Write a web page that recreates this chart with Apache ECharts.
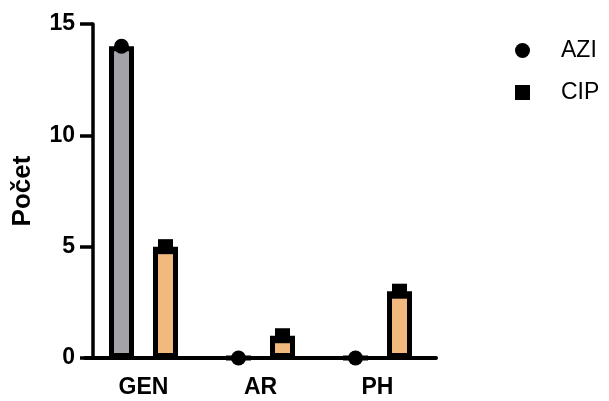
<!DOCTYPE html>
<html>
<head>
<meta charset="utf-8">
<script src="https://cdn.jsdelivr.net/npm/echarts@6/dist/echarts.min.js"></script>
<style>html,body{margin:0;padding:0;background:#fff}#c{width:609px;height:401px}</style>
</head>
<body>
<div id="c"></div>
<script>
const categories = ['GEN', 'AR', 'PH'];
const aziValues = [14, 0, 0];
const cipValues = [5, 1, 3];
const seriesNames = ['AZI', 'CIP'];
const yMin = 0, yMax = 15, yStep = 5;

const FONT = '"Liberation Sans", Arial, sans-serif';
const chart = echarts.init(document.getElementById('c'), null, {renderer: 'canvas'});
const BW = 25, GAP = '76%';
chart.setOption({
  animation: false,
  backgroundColor: '#fff',
  grid: {left: 85, top: 24, width: 351, bottom: 43, containLabel: false},
  legend: {
    orient: 'vertical', left: 510, top: 34, itemWidth: 15, itemHeight: 15, itemGap: 19,
    formatter: function (name) { return '{s| }{n|' + name + '}'; },
    textStyle: {fontFamily: FONT, fontSize: 23, color: '#000',
      rich: {s: {width: 26, fontSize: 23}, n: {fontFamily: FONT, fontSize: 23, color: '#000'}}},
    data: [{name: seriesNames[0], icon: 'circle'}, {name: seriesNames[1], icon: 'rect'}],
    selectedMode: false
  },
  xAxis: {
    type: 'category', data: categories,
    axisLine: {lineStyle: {color: '#000', width: 4}},
    axisTick: {alignWithLabel: true, length: 13, lineStyle: {color: '#000', width: 3}},
    axisLabel: {fontFamily: FONT, fontSize: 23, fontWeight: 'bold', color: '#000', margin: 18}
  },
  yAxis: {
    type: 'value', min: yMin, max: yMax, interval: yStep, offset: -8,
    name: 'Počet', nameLocation: 'middle', nameGap: 57, nameRotate: 90,
    nameTextStyle: {fontFamily: FONT, fontSize: 26, fontWeight: 'bold', color: '#000'},
    axisLine: {show: true, lineStyle: {color: '#000', width: 3.5}},
    axisTick: {show: true, length: 13, lineStyle: {color: '#000', width: 3.5}},
    splitLine: {show: false},
    axisLabel: {fontFamily: FONT, fontSize: 23, fontWeight: 'bold', color: '#000', margin: 18}
  },
  series: [
    {name: 'AZI_bar', type: 'bar', data: aziValues, barWidth: BW, barGap: GAP,
     itemStyle: {color: '#a4a3a8', borderColor: '#000', borderWidth: 5}, z: 2},
    {name: 'CIP_bar', type: 'bar', data: cipValues, barWidth: BW, barGap: GAP,
     itemStyle: {color: '#f2b97e', borderColor: '#000', borderWidth: 5}, z: 2},
    {name: seriesNames[0], type: 'pictorialBar', data: aziValues, barWidth: BW, barGap: GAP,
     symbol: 'circle', symbolSize: [15, 15], symbolPosition: 'end', symbolOffset: [0, '-50%'],
     itemStyle: {color: '#000'}, z: 5},
    {name: seriesNames[1], type: 'pictorialBar', data: cipValues, barWidth: BW, barGap: GAP,
     symbol: 'rect', symbolSize: [15, 15], symbolPosition: 'end', symbolOffset: [0, '-50%'],
     itemStyle: {color: '#000'}, z: 5}
  ]
});
</script>
</body>
</html>
